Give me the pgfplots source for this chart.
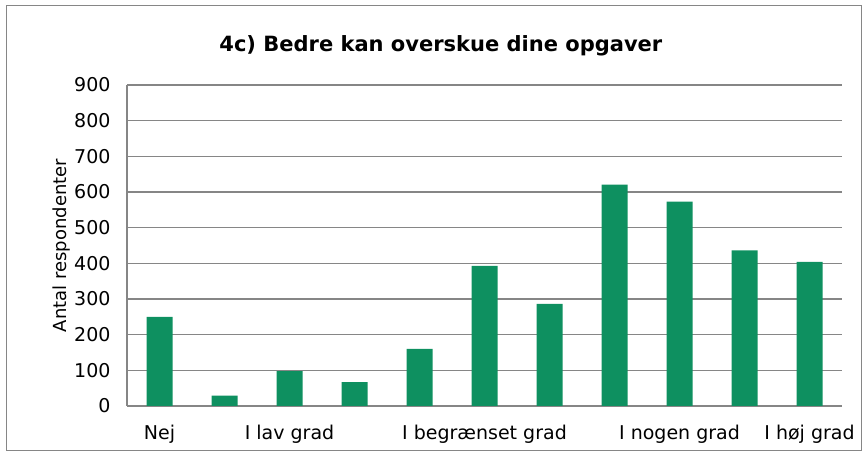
\documentclass[border=0pt]{standalone}
\usepackage{fontspec}
\setmainfont{DejaVu Sans}
\usepackage{pgfplots}
\pgfplotsset{compat=1.18}
\definecolor{barg}{RGB}{14,144,96}
\definecolor{gridg}{RGB}{134,134,134}
\begin{document}
\begin{tikzpicture}[x=1bp,y=1bp]
\path[use as bounding box] (0,0) rectangle (868,457);
\draw[gridg, line width=1bp] (6,6) rectangle (861,451);
\begin{axis}[
  at={(127bp,51bp)}, anchor=south west,
  scale only axis, width=715bp, height=321bp,
  xmin=-0.5, xmax=10.5, ymin=0, ymax=900,
  ytick={0,100,...,900},
  xtick={0,2,5,8,10},
  xticklabels={Nej, I lav grad, I begrænset grad, I nogen grad, I høj grad},
  ymajorgrids, grid style={gridg, line width=1.6bp},
  axis lines*=left,
  axis line style={gridg, line width=1.6bp},
  major tick length=0pt,
  tick label style={font=\fontsize{19bp}{22bp}\selectfont, text=black},
  xticklabel style={yshift=-16bp},
  yticklabel style={xshift=-13bp},
  /pgf/number format/assume math mode=true,
  ylabel={Antal respondenter},
  ylabel style={at={(axis description cs:-0.0909,0.5)}, anchor=center, font=\fontsize{18bp}{21bp}\selectfont},
  title={4c) Bedre kan overskue dine opgaver},
  title style={at={(axis description cs:0.439,1.103)}, anchor=center, font=\bfseries\fontsize{21bp}{24bp}\selectfont},
  ybar, bar width=26bp,
]
\addplot[fill=barg, draw=none] coordinates {
  (0,250) (1,29) (2,98) (3,67) (4,160) (5,393) (6,286) (7,621) (8,573) (9,436) (10,404)
};
\end{axis}
\end{tikzpicture}
\end{document}
